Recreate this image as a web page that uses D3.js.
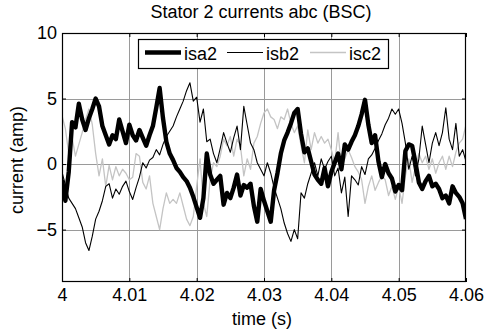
<!DOCTYPE html>
<html>
<head>
<meta charset="utf-8">
<script src="https://cdn.jsdelivr.net/npm/d3@7"></script>
<style>
  body { margin: 0; background: #fff; }
  svg { display: block; font-family: "Liberation Sans", Arial, sans-serif; }
</style>
</head>
<body>
<svg id="chart" width="486" height="330"></svg>
<script>
// sampled every 0.5 ms from t = 4 s
const t0 = 4;
const dt = 0.0005;

const isa2 = [
  -1.2, -2.8, -0.6, 3.2, 2.8, 4.6, 3.4, 2.6, 3.5, 4.2,
  5.0, 4.4, 2.9, 2.2, 1.5, 2.2, 1.9, 3.4, 2.5, 1.6,
  3.0, 2.2, 1.8, 2.6, 2.0, 1.4, 2.2, 2.9, 4.3, 5.8,
  3.5, 1.7, 0.8, 0.3, -0.3, -0.6, -1.0, -1.3, -1.8, -2.5,
  -3.3, -4.1, -2.6, 0.8, -0.8, -1.5, -1.2, -0.9, -3.1, -2.2,
  -2.6, -1.8, -0.8, -2.4, -1.6, -1.8, -1.5, -3.2, -4.4, -1.9,
  -2.8, -3.6, -4.4, -2.0, -0.7, 0.8, 1.8, 2.4, 3.1, 3.9,
  4.2, 2.3, 0.9, 1.2, 0.2, -0.8, -1.2, -1.5, -0.3, -1.7,
  -0.6, 0.1, 0.8, -0.4, 1.5, 1.1, 1.7, 2.2, 2.9, 3.8,
  4.9, 3.0, 1.6, 2.2, 0.2, -1.0, 0.0, -0.7, -1.1, -2.1,
  -1.6, -2.0, 1.0, 1.5, 1.4, 0.1, -1.4, -1.9, -1.3, -0.9,
  -1.7, -1.5, -1.9, -2.6, -2.4, -3.0, -1.7, -2.2, -2.5, -3.0,
  -4.2
];

const isb2 = [
  -0.6, -1.6, -2.6, -3.0, -3.4, -4.1, -4.8, -6.0, -6.6, -5.5,
  -4.2, -3.6, -2.8, -1.7, -1.5, -2.6, -1.9, -2.3, -1.7, -1.3,
  -2.1, -2.7, -1.8, -1.0, 0.1, -0.3, 0.3, 0.5, 1.1, 0.7,
  1.5, 2.1, 2.5, 2.9, 3.6, 4.2, 4.8, 5.6, 6.2, 4.8,
  5.1, 3.2, 4.2, 1.7, 1.9, 0.8, 0.1, 1.2, 2.4, 1.6,
  0.9, 2.0, 2.9, 1.1, 4.4, 3.0, 1.6, 1.1, 0.1, -0.4,
  -0.9, 0.1, -0.7, -1.8, -2.6, -3.4, -4.5, -5.3, -5.9, -5.0,
  -5.7, -2.2, -2.6, -1.5, -0.7, 0.1, -0.9, 0.4, -0.4, 0.2,
  0.6, -0.9, -0.3, -2.2, -1.0, -4.0, -0.9, -1.2, -1.6, -0.2,
  -0.8, 0.4, 0.7, 1.2, 1.8, 2.3, 3.0, 3.5, 4.2, 3.8,
  4.2, 3.1, 1.6, -0.4, 0.6, -0.9, 0.4, 2.9, 1.5, 0.1,
  1.6, 2.4, 1.4, 2.4, 4.3, 1.9, 1.1, 3.1, 0.6, 1.1,
  0.2
];

const isc2 = [
  3.7, 2.7, 0.8, 2.0, 0.6, 1.5, 2.4, 3.4, 4.2, 3.0,
  0.8, -0.9, 0.4, -1.7, -0.1, -1.2, -0.2, -0.9, -0.4, -0.7,
  -1.2, -1.0, 0.8, 0.6, -1.4, -1.9, -0.9, -3.0, -4.0, -5.0,
  -3.4, -2.2, -3.0, -2.7, -3.0, -2.2, -3.2, -4.2, -4.7, -4.0,
  -1.7, 0.4, -3.0, -4.0, -1.2, 0.1, -0.2, 0.6, 1.9, 1.4,
  2.1, 0.6, 1.9, 1.4, -0.9, 0.4, -0.4, 1.6, 2.1, 3.1,
  3.9, 4.2, 3.6, 3.4, 2.7, 3.6, 3.4, 4.2, 3.1, 2.4,
  2.9, 1.4, 0.1, 2.6, 1.1, 2.4, 1.6, 2.1, 1.6, 1.9,
  1.1, 0.1, 2.4, -0.2, 0.4, 1.1, 0.5, -0.2, -0.6, -1.2,
  -3.0, -1.7, -0.9, -2.0, -1.4, -0.9, -1.2, -2.4, -1.7, -2.7,
  -1.7, -3.0, -0.9, 0.4, -1.4, -0.2, 0.8, 0.1, 0.6, -0.4,
  0.4, -0.7, 0.1, 0.6, -0.4, 0.6, -0.2, 0.9, 1.6, 1.9,
  3.0
];

const seriesNames = ["isa2", "isb2", "isc2"];
const xTicks = [4, 4.01, 4.02, 4.03, 4.04, 4.05, 4.06];
const yTicks = [-5, 0, 5, 10];

const svg = d3.select("#chart");
const margin = { left: 62, right: 20, top: 33, bottom: 48 };
const width = +svg.attr("width");
const height = +svg.attr("height");
const x0 = margin.left, x1 = width - margin.right;
const y0 = margin.top, y1 = height - margin.bottom;

const xScale = d3.scaleLinear().domain([4, 4.06]).range([x0, x1]);
const yScale = d3.scaleLinear().domain([-9, 10]).range([y1, y0]);

const styles = {
  isa2: { color: "#000", width: 4.4 },
  isb2: { color: "#000", width: 1.1 },
  isc2: { color: "#c4c4c4", width: 1.3 },
};
const data = { isa2, isb2, isc2 };

// grid
const grid = svg.append("g").attr("stroke", "#9a9a9a").attr("stroke-width", 1);
grid.selectAll(".gx").data(xTicks.slice(1, -1)).enter().append("line")
  .attr("x1", (d) => Math.round(xScale(d)) + 0.5).attr("x2", (d) => Math.round(xScale(d)) + 0.5)
  .attr("y1", y0).attr("y2", y1);
grid.selectAll(".gy").data(yTicks.filter((d) => d < 10)).enter().append("line")
  .attr("y1", (d) => Math.round(yScale(d)) + 0.5).attr("y2", (d) => Math.round(yScale(d)) + 0.5)
  .attr("x1", x0).attr("x2", x1);

svg.append("clipPath").attr("id", "clip").append("rect")
  .attr("x", x0).attr("y", y0).attr("width", x1 - x0).attr("height", y1 - y0);

const line = d3.line()
  .x((d, i) => xScale(t0 + i * dt))
  .y((d) => yScale(d));

const plot = svg.append("g").attr("clip-path", "url(#clip)");
// draw light series first so the black ones sit on top
["isc2", "isb2", "isa2"].forEach((name) => {
  plot.append("path")
    .datum(data[name])
    .attr("fill", "none")
    .attr("stroke", styles[name].color)
    .attr("stroke-width", styles[name].width)
    .attr("stroke-linejoin", "round")
    .attr("d", line);
});

// axes with inward ticks
const fmtX = (d) => (d === 4 ? "4" : d3.format(".2f")(d));
const axisFont = (g) => g.selectAll("text").attr("font-size", 18).attr("fill", "#000")
  .attr("font-family", "Liberation Sans, Arial, sans-serif");

svg.append("g").attr("transform", `translate(0,${y1})`)
  .call(d3.axisBottom(xScale).tickValues(xTicks).tickFormat(fmtX).tickSizeInner(-4).tickSizeOuter(0).tickPadding(6))
  .call(axisFont).call((g) => g.select(".domain").remove());
svg.append("g").attr("transform", `translate(0,${y0})`)
  .call(d3.axisTop(xScale).tickValues(xTicks).tickFormat("").tickSizeInner(-4).tickSizeOuter(0))
  .call((g) => g.select(".domain").remove());
svg.append("g").attr("transform", `translate(${x0},0)`)
  .call(d3.axisLeft(yScale).tickValues(yTicks).tickSizeInner(-4).tickSizeOuter(0).tickPadding(5))
  .call(axisFont).call((g) => g.select(".domain").remove());
svg.append("g").attr("transform", `translate(${x1},0)`)
  .call(d3.axisRight(yScale).tickValues(yTicks).tickFormat("").tickSizeInner(-4).tickSizeOuter(0))
  .call((g) => g.select(".domain").remove());

svg.append("rect")
  .attr("x", x0 + 0.5).attr("y", y0 + 0.5)
  .attr("width", x1 - x0 - 1).attr("height", y1 - y0 - 1)
  .attr("fill", "none").attr("stroke", "#000").attr("stroke-width", 1.2);

// titles
svg.append("text").attr("x", 261).attr("y", 18).attr("text-anchor", "middle")
  .attr("font-size", 18).text("Stator 2 currents abc (BSC)");
svg.append("text").attr("x", 262).attr("y", 325).attr("text-anchor", "middle")
  .attr("font-size", 18).text("time (s)");
svg.append("text").attr("transform", "translate(23,160) rotate(-90)").attr("text-anchor", "middle")
  .attr("font-size", 18).text("current (amp)");

// legend
const legend = svg.append("g");
legend.append("rect").attr("x", 138.5).attr("y", 39.5).attr("width", 250).attr("height", 29)
  .attr("fill", "#fff").attr("stroke", "#000").attr("stroke-width", 1.2);
const legendX = [145, 227, 310];
seriesNames.forEach((name, i) => {
  legend.append("line")
    .attr("x1", legendX[i]).attr("x2", legendX[i] + 36)
    .attr("y1", 52.5).attr("y2", 52.5)
    .attr("stroke", styles[name].color).attr("stroke-width", styles[name].width);
  legend.append("text").attr("x", legendX[i] + 39).attr("y", 59.5)
    .attr("font-size", 18).text(name);
});
</script>
</body>
</html>
